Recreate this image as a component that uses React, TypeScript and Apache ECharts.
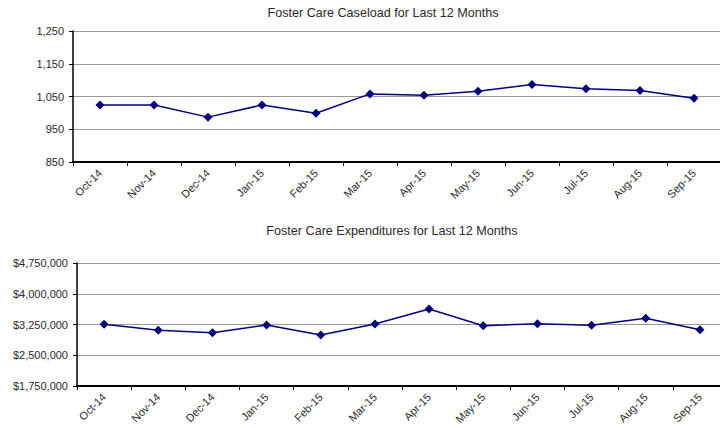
import React, { useEffect, useRef } from "react";
import * as echarts from "echarts";

const months = ["Oct-14", "Nov-14", "Dec-14", "Jan-15", "Feb-15", "Mar-15", "Apr-15", "May-15", "Jun-15", "Jul-15", "Aug-15", "Sep-15"];
const caseload = [1024, 1024, 987, 1024, 999, 1058, 1054, 1066, 1087, 1074, 1068, 1045];
const expenditures = [3255000, 3109000, 3051000, 3238000, 2995000, 3262000, 3626000, 3221000, 3269000, 3231000, 3400000, 3124000];
const caseloadTitle = "Foster Care Caseload for Last 12 Months";
const expendTitle = "Foster Care Expenditures for Last 12 Months";

const FONT = "'Liberation Sans', Arial, sans-serif";
const NAVY = "#000080";
const TXT = "#2a2a2a";

function fmtNum(v: number) {
  return v.toLocaleString("en-US");
}

export default function App() {
  const ref = useRef<HTMLDivElement>(null);
  useEffect(() => {
    if (!ref.current) return;
    const chart = echarts.init(ref.current, undefined, { renderer: "svg" });
    const xAxisCommon = (gridIndex: number) => ({
      type: "category" as const,
      gridIndex,
      data: months,
      boundaryGap: true,
      axisLine: { show: true, lineStyle: { color: "#000", width: 2 } },
      axisTick: { show: true, length: 4, inside: false, lineStyle: { color: "#000", width: 1 } },
      axisLabel: { rotate: 45, fontSize: 11, color: TXT, fontFamily: FONT, margin: 9, interval: 0 },
      splitLine: { show: false },
    });
    chart.setOption({
      animation: false,
      backgroundColor: "#fff",
      textStyle: { fontFamily: FONT },
      title: [
        { text: caseloadTitle, left: 383, top: 6, padding: 0, textAlign: "center", textStyle: { fontSize: 12.6, fontWeight: "normal", color: TXT, fontFamily: FONT } },
        { text: expendTitle, left: 392, top: 224, padding: 0, textAlign: "center", textStyle: { fontSize: 12.6, fontWeight: "normal", color: TXT, fontFamily: FONT } },
      ],
      grid: [
        { left: 73, top: 31, width: 648, height: 131 },
        { left: 77, top: 263, width: 650, height: 123 },
      ],
      xAxis: [xAxisCommon(0), xAxisCommon(1)],
      yAxis: [
        {
          type: "value", gridIndex: 0, min: 850, max: 1250, interval: 100,
          axisLine: { show: true, lineStyle: { color: "#000", width: 1.5 } },
          axisTick: { show: true, length: 4, lineStyle: { color: "#000" } },
          axisLabel: { fontSize: 11, color: TXT, fontFamily: FONT, margin: 9, formatter: (v: number) => fmtNum(v) },
          splitLine: { show: true, lineStyle: { color: "#999", width: 1 } },
        },
        {
          type: "value", gridIndex: 1, min: 1750000, max: 4750000, interval: 750000,
          axisLine: { show: true, lineStyle: { color: "#000", width: 1.5 } },
          axisTick: { show: true, length: 4, lineStyle: { color: "#000" } },
          axisLabel: { fontSize: 11, color: TXT, fontFamily: FONT, margin: 9, formatter: (v: number) => "$" + fmtNum(v) },
          splitLine: { show: true, lineStyle: { color: "#999", width: 1 } },
        },
      ],
      series: [
        {
          type: "line", xAxisIndex: 0, yAxisIndex: 0, data: caseload,
          symbol: "diamond", symbolSize: 9,
          lineStyle: { color: NAVY, width: 1.5 },
          itemStyle: { color: NAVY },
        },
        {
          type: "line", xAxisIndex: 1, yAxisIndex: 1, data: expenditures,
          symbol: "diamond", symbolSize: 9,
          lineStyle: { color: NAVY, width: 1.5 },
          itemStyle: { color: NAVY },
        },
      ],
    });
    return () => chart.dispose();
  }, []);
  return (
    <div style={{ position: "fixed", left: 0, top: 0, width: 720, height: 428, overflow: "hidden", background: "#fff" }}>
      <div ref={ref} style={{ width: 732, height: 428 }} />
    </div>
  );
}
